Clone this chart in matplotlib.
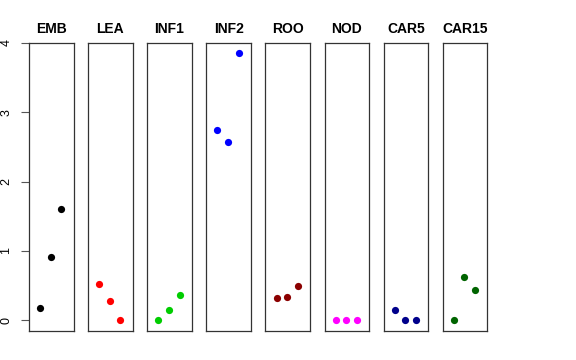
import numpy as np
import matplotlib
matplotlib.use("Agg")
import matplotlib.pyplot as plt

plt.rcParams['font.family'] = ['Liberation Sans', 'DejaVu Sans']

tissues = ["EMB", "LEA", "INF1", "INF2", "ROO", "NOD", "CAR5", "CAR15"]
colours = ["black", "red", "#00CD00", "blue", "#8B0000", "magenta", "#00008B", "#006400"]
reps = [1, 2, 3]
emb = [0.18, 0.91, 1.61]
lea = [0.53, 0.28, 0.0]
inf1 = [0.0, 0.15, 0.37]
inf2 = [2.75, 2.57, 3.85]
roo = [0.32, 0.33, 0.50]
nod = [0.0, 0.0, 0.0]
car5 = [0.15, 0.0, 0.0]
car15 = [0.0, 0.63, 0.44]
values = [emb, lea, inf1, inf2, roo, nod, car5, car15]

W, H = 576, 360
fig = plt.figure(figsize=(W / 100, H / 100), dpi=100)

top_px, bot_px = 43, 331
for i, (name, col, vals) in enumerate(zip(tissues, colours, values)):
    left_px = 29 + 59.1 * i
    ax = fig.add_axes([left_px / W, (H - bot_px) / H, 44.5 / W, (bot_px - top_px) / H])
    ax.plot(reps, vals, 'o', color=col, markersize=5.2, markeredgewidth=0)
    ax.set_xlim(-0.05, 4.14)
    ax.set_ylim(-0.155, 4.0)
    ax.set_xticks([])
    for s in ax.spines.values():
        s.set_linewidth(0.9)
        s.set_color('#333333')
    ax.set_title(name, fontsize=10, fontweight='bold', pad=7)
    if i == 0:
        ax.set_yticks([0, 1, 2, 3, 4])
        ax.tick_params(axis='y', length=6, width=0.8, color='#555555', pad=6,
                       labelsize=9, labelrotation=90)
        for lab in ax.get_yticklabels():
            lab.set_verticalalignment('center')
    else:
        ax.set_yticks([])

fig.savefig("out.png", dpi=100)
